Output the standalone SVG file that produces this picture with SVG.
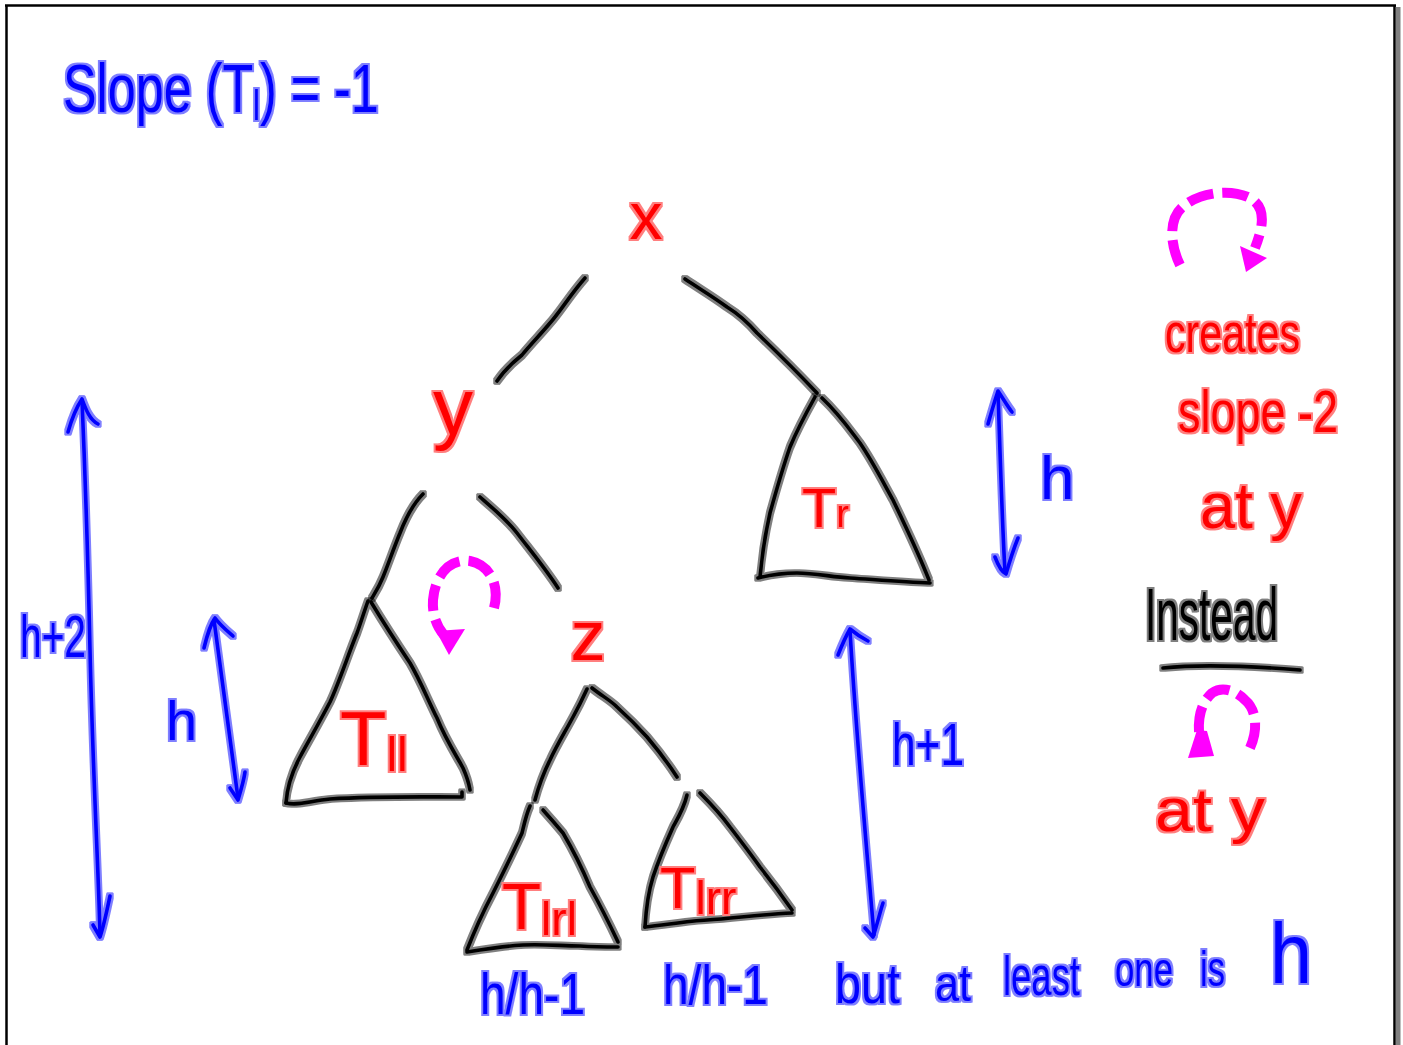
<svg xmlns="http://www.w3.org/2000/svg" width="1403" height="1045" viewBox="0 0 1403 1045">
<defs>
<filter id="halo" filterUnits="userSpaceOnUse" x="0" y="0" width="1403" height="1045" color-interpolation-filters="sRGB">
<feMorphology in="SourceGraphic" operator="dilate" radius="2" result="d"/>
<feColorMatrix in="d" type="matrix" values="1 0 0 0 0 0 1 0 0 0 0 0 1 0 0 0 0 0 0.5 0" result="h"/>
<feMerge><feMergeNode in="h"/><feMergeNode in="SourceGraphic"/></feMerge>
</filter>
<style>
.ink{fill:none;stroke:#000;stroke-width:3.6;stroke-linecap:round;stroke-linejoin:round}
.bl{fill:none;stroke:#0000ff;stroke-width:3.6;stroke-linecap:round;stroke-linejoin:round}
.rot{fill:none;stroke:#ff00ff;stroke-width:10;stroke-dasharray:26 9}
.rh{fill:#ff00ff}
text{font-family:"Liberation Sans",Arial,sans-serif}
.r{fill:#ff0000}
.b{fill:#0000ff}
.k{fill:#000}
</style>
</defs>
<rect width="1403" height="1045" fill="#fff"/>
<g id="frame">
<line x1="5" y1="5.5" x2="1396" y2="5.5" stroke="#000" stroke-width="2.5"/>
<line x1="6.5" y1="5" x2="6.5" y2="1045" stroke="#000" stroke-width="2.5"/>
<line x1="1394.5" y1="5" x2="1394.5" y2="1045" stroke="#000" stroke-width="2.5"/>
<rect x="1396" y="7" width="4.5" height="1038" fill="#808080"/>
</g>
<g id="title" filter="url(#halo)">
<text class="b" font-size="68" transform="translate(63,112) scale(0.74,1)">Slope (T<tspan font-size="42" dy="8">l</tspan><tspan dy="-8">) = -1</tspan></text>
</g>
<g id="connectors" filter="url(#halo)">
<path id="e-x-y" class="ink" d="M585,278 C570,295 560,312 550,323 C540,335 530,345 522,355 C512,363 503,372 497,381"/>
<path id="e-x-Tr" class="ink" d="M685,279 C700,289 715,298 727,307 C740,315 750,325 757,333 C780,355 800,375 817,393"/>
<path id="e-y-Tll" class="ink" d="M423,494 C412,505 405,520 400,533 C393,550 388,565 383,577 C379,587 375,593 372,598"/>
<path id="e-y-z" class="ink" d="M480,497 C495,510 507,520 517,533 C530,550 545,568 558,588"/>
<path id="e-z-Tlrl" class="ink" d="M587,689 C582,700 578,708 573,717 C565,732 557,745 550,760 C544,772 539,785 535,800"/>
<path id="e-z-Tlrr" class="ink" d="M592,688 C602,696 610,700 617,707 C628,717 638,727 647,737 C658,750 668,763 677,777"/>
</g>
<g id="node-x" filter="url(#halo)">
<text class="r" x="646" y="239" font-size="66" text-anchor="middle">x</text>
</g>
<g id="node-y" filter="url(#halo)">
<text class="r" x="453" y="434" font-size="80" text-anchor="middle">y</text>
</g>
<g id="node-z" filter="url(#halo)">
<text class="r" x="588" y="660" font-size="70" text-anchor="middle">z</text>
</g>
<g id="node-Tr" filter="url(#halo)">
<path class="ink" d="M815,397 C805,415 795,435 790,447 C782,470 775,495 770,513 C765,535 762,555 760,577"/>
<path class="ink" d="M758,578 C770,575 785,573 797,573 C815,573 832,577 850,578 C880,580 905,582 930,583"/>
<path class="ink" d="M822,398 C840,415 850,430 860,443 C873,462 883,482 893,500 C905,525 918,552 929,580"/>
<text class="r" x="802" y="527" font-size="56">T<tspan font-size="38">r</tspan></text>
</g>
<g id="node-Tll" filter="url(#halo)">
<path class="ink" d="M368,601 C363,615 360,625 357,633 C348,655 340,680 330,702 C318,725 308,742 300,757 C292,772 287,788 286,803"/>
<path class="ink" d="M286,803 C298,806 310,801 330,799 C380,796 420,797 462,797 L462,792"/>
<path class="ink" d="M371,602 C385,625 398,645 410,663 C420,680 428,700 437,718 C446,740 456,755 463,768 C467,777 469,784 470,790"/>
<text class="r" x="340" y="765" font-size="76">T<tspan font-size="48" dy="6">ll</tspan></text>
</g>
<g id="node-Tlrl" filter="url(#halo)">
<path class="ink" d="M530,806 C526,815 524,825 522,833 C512,855 502,875 493,893 C483,912 474,932 467,950"/>
<path class="ink" d="M467,952 C485,949 505,946 523,945 C545,944 562,946 580,946 C595,947 607,947 618,947"/>
<path class="ink" d="M543,810 C552,820 558,827 563,833 C573,850 582,868 590,887 C600,905 610,925 618,942"/>
<text class="r" x="502" y="929" font-size="64">T<tspan font-size="46" dy="6">lrl</tspan></text>
</g>
<g id="node-Tlrr" filter="url(#halo)">
<path class="ink" d="M687,795 C684,808 678,818 673,827 C665,845 658,862 653,877 C648,893 646,910 645,927"/>
<path class="ink" d="M645,927 C665,925 688,921 707,920 C735,918 765,914 792,913"/>
<path class="ink" d="M700,793 C712,805 722,816 730,827 C740,840 750,853 760,867 C772,882 783,897 792,910"/>
<text class="r" x="660" y="908" font-size="58">T<tspan font-size="46" dy="6">lrr</tspan></text>
</g>
<g id="dimensions" filter="url(#halo)">
<path class="bl" d="M82,400 C85,470 88,560 90,650 C93,780 99,880 100,936"/>
<path class="bl" d="M68,432 C72,418 78,405 82,399 C86,410 90,420 98,424"/>
<path class="bl" d="M93,925 L100,937 C104,925 107,910 110,896"/>
<text class="b" x="20" y="657" font-size="60" textLength="66" lengthAdjust="spacingAndGlyphs">h+2</text>
<path class="bl" d="M214,620 C222,680 230,740 238,798"/>
<path class="bl" d="M204,648 C207,635 212,622 215,618 C220,625 226,630 233,636"/>
<path class="bl" d="M230,788 L238,800 C241,790 244,780 245,772"/>
<text class="b" x="166" y="740" font-size="56">h</text>
<path class="bl" d="M998,392 C1000,450 1002,520 1005,572"/>
<path class="bl" d="M988,424 C992,410 995,400 998,391 C1004,400 1008,407 1012,412"/>
<path class="bl" d="M995,557 C998,565 1002,572 1006,574 C1010,560 1014,548 1018,538"/>
<text class="b" x="1040" y="499" font-size="62">h</text>
<path class="bl" d="M850,630 C855,720 865,830 874,935"/>
<path class="bl" d="M838,655 C842,645 846,636 850,629 C856,634 862,638 868,641"/>
<path class="bl" d="M865,928 L873,937 C877,925 880,912 883,903"/>
<text class="b" x="892" y="765" font-size="60" textLength="72" lengthAdjust="spacingAndGlyphs">h+1</text>
</g>
<g id="bottom-notes" filter="url(#halo)">
<text class="b" x="480" y="1014" font-size="58" textLength="105" lengthAdjust="spacingAndGlyphs">h/h-1</text>
<text class="b" x="663" y="1004" font-size="55" textLength="105" lengthAdjust="spacingAndGlyphs">h/h-1</text>
<text class="b" x="835" y="1003" font-size="55" textLength="65" lengthAdjust="spacingAndGlyphs">but</text>
<text class="b" x="935" y="1001" font-size="50" textLength="36" lengthAdjust="spacingAndGlyphs">at</text>
<text class="b" x="1003" y="995" font-size="55" textLength="77" lengthAdjust="spacingAndGlyphs">least</text>
<text class="b" x="1115" y="986" font-size="48" textLength="58" lengthAdjust="spacingAndGlyphs">one</text>
<text class="b" x="1200" y="986" font-size="50" textLength="25" lengthAdjust="spacingAndGlyphs">is</text>
<text class="b" x="1270" y="983" font-size="86" textLength="42" lengthAdjust="spacingAndGlyphs">h</text>
</g>
<g id="rotations">
<path class="rot" d="M1180,265 C1168,240 1170,215 1185,205 C1200,193 1230,188 1250,198 C1268,208 1262,230 1255,248"/>
<polygon class="rh" points="1240,246 1267,258 1246,272"/>
<path class="rot" d="M494,608 C500,585 490,565 470,561 C450,558 435,575 433,600 C432,615 437,627 444,635"/>
<polygon class="rh" points="436,631 465,629 449,655"/>
<path class="rot" d="M1250,748 C1258,730 1257,710 1245,700 C1235,690 1222,686 1212,693 C1202,702 1198,715 1199,732"/>
<polygon class="rh" points="1197,730 1207,731 1214,756 1188,758"/>
</g>
<g id="side-notes" filter="url(#halo)">
<text class="r" x="1165" y="352" font-size="56" textLength="135" lengthAdjust="spacingAndGlyphs">creates</text>
<text class="r" x="1178" y="432" font-size="60" textLength="160" lengthAdjust="spacingAndGlyphs">slope -2</text>
<text class="r" x="1200" y="528" font-size="64" textLength="102" lengthAdjust="spacingAndGlyphs">at y</text>
<text class="k" x="1145" y="640" font-size="74" textLength="133" lengthAdjust="spacingAndGlyphs">Instead</text>
<path class="ink" d="M1163,668 C1200,664 1250,666 1300,670"/>
<text class="r" x="1155" y="831" font-size="62" textLength="110" lengthAdjust="spacingAndGlyphs">at y</text>
</g>
</svg>
